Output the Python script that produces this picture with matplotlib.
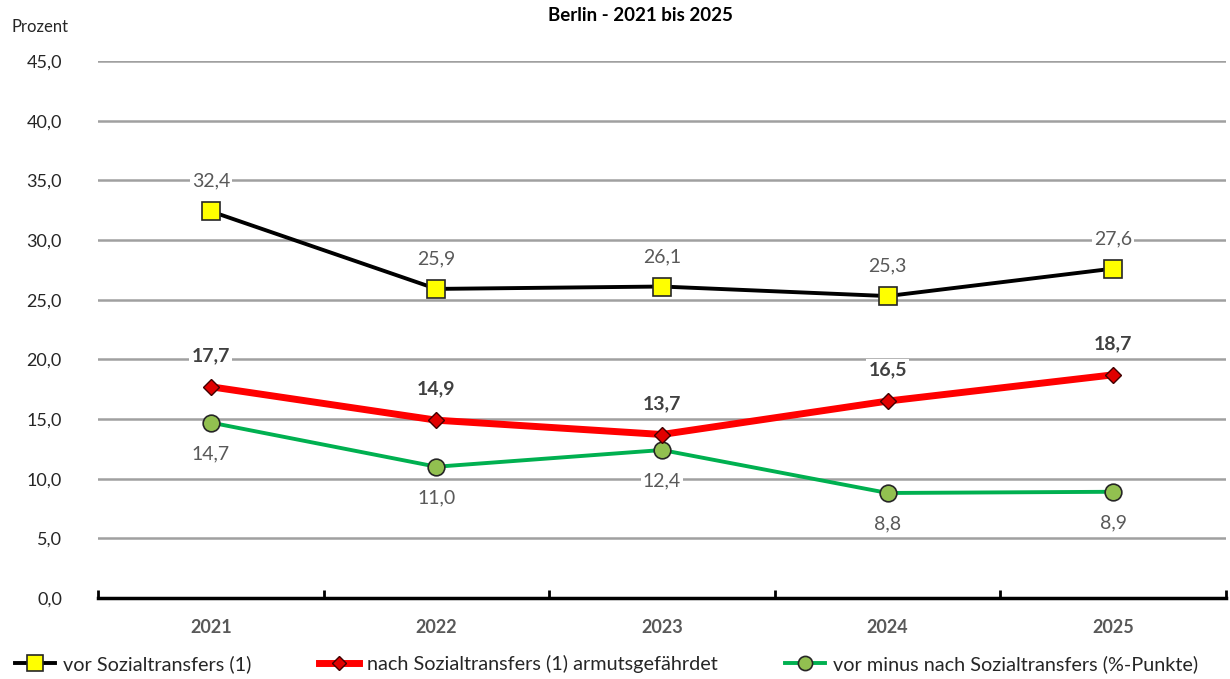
import numpy as np
import matplotlib
matplotlib.use("Agg")
import matplotlib.pyplot as plt

plt.rcParams['font.family'] = ['Lato', 'DejaVu Sans']

years = ['2021', '2022', '2023', '2024', '2025']
vor = [32.4, 25.9, 26.1, 25.3, 27.6]
nach = [17.7, 14.9, 13.7, 16.5, 18.7]
diff = [14.7, 11.0, 12.4, 8.8, 8.9]
yticks = [0, 5, 10, 15, 20, 25, 30, 35, 40, 45]

def de(v):
    return f"{v:.1f}".replace('.', ',')

fig = plt.figure(figsize=(12.3, 6.79), dpi=100)
ax = fig.add_axes([0.0797, 0.1193, 0.917, 0.7909])

x = np.arange(len(years))

ax.plot(x, vor, color='black', lw=2.8, marker='s', ms=13, mfc='#FFFF00',
        mec='#262626', mew=1.2, label='vor Sozialtransfers (1)', zorder=4)
ax.plot(x, nach, color='#FF0000', lw=5, marker='D', ms=8, mfc='#E00000',
        mec='#400000', mew=1.0, label='nach Sozialtransfers (1) armutsgefährdet', zorder=5)
ax.plot(x, diff, color='#00B050', lw=2.8, marker='o', ms=12, mfc='#92C050',
        mec='#262626', mew=1.2, label='vor minus nach Sozialtransfers (%-Punkte)', zorder=3)

box = dict(facecolor='white', edgecolor='none', pad=1.5)
for xi, v in zip(x, vor):
    ax.annotate(de(v), (xi, v), xytext=(0, 30), textcoords='offset pixels',
                ha='center', va='center', fontsize=14, color='#595959', bbox=box, zorder=6)
for xi, v in zip(x, nach):
    ax.annotate(de(v), (xi, v), xytext=(0, 31), textcoords='offset pixels',
                ha='center', va='center', fontsize=14, color='#404040',
                fontweight='bold', bbox=box, zorder=6)
for xi, v in zip(x, diff):
    ax.annotate(de(v), (xi, v), xytext=(0, -31), textcoords='offset pixels',
                ha='center', va='center', fontsize=14, color='#595959', bbox=box, zorder=6)

ax.set_xlim(-0.5, len(years) - 0.5)
ax.set_ylim(0, 45)
ax.set_yticks(yticks)
ax.set_yticklabels([de(v) for v in yticks], fontsize=13, color='#262626')
ax.set_xticks(x)
ax.set_xticklabels(years, fontsize=13, fontweight='bold', color='#595959')
ax.set_xticks(np.arange(-0.5, len(years)), minor=True)
ax.tick_params(axis='x', which='major', length=0, pad=15)
ax.tick_params(axis='x', which='minor', direction='in', length=6, width=2, color='black')
ax.tick_params(axis='y', length=0, pad=26)

for g in yticks[1:]:
    ax.axhline(g, color='#A0A0A0', lw=1.8, zorder=1)

for s in ['top', 'right', 'left']:
    ax.spines[s].set_visible(False)
ax.spines['bottom'].set_linewidth(2.5)
ax.spines['bottom'].set_zorder(2)

fig.text(0.521, 0.977, 'Berlin - 2021 bis 2025', ha='center', va='center',
         fontsize=13.5, fontweight='bold', color='black')
fig.text(0.009, 0.96, 'Prozent', ha='left', va='center', fontsize=12, color='#262626')

fig.legend(loc='lower left', bbox_to_anchor=(-0.002, -0.017), ncol=3, frameon=False,
           fontsize=14.3, handlelength=2.0, handletextpad=0.4, columnspacing=3.4,
           labelcolor='#262626', markerscale=0.85)

fig.savefig('out.png', dpi=100)
